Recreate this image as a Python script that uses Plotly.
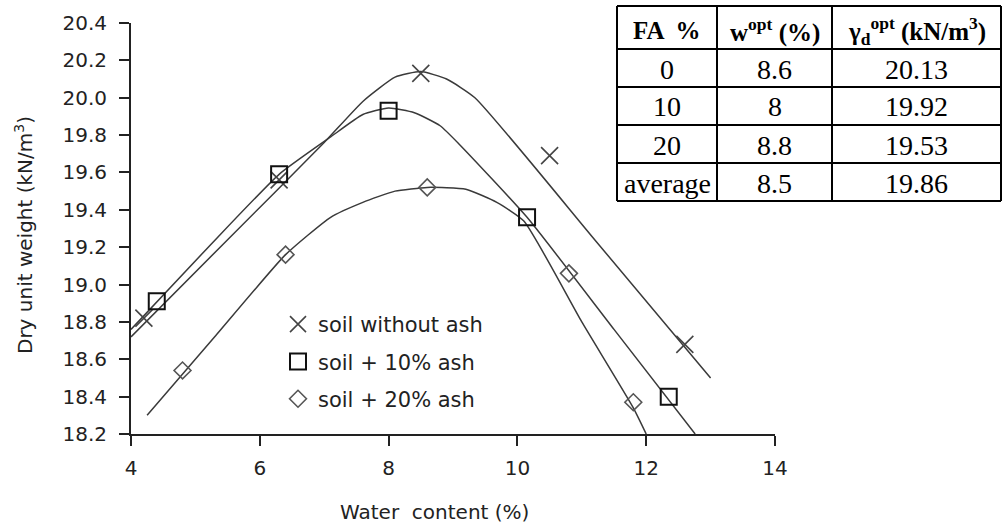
import plotly.graph_objects as go

# Measured compaction points (water content %, dry unit weight kN/m3)
w_no_ash = [4.2, 6.3, 8.5, 10.5, 12.6]
gd_no_ash = [18.82, 19.56, 20.13, 19.69, 18.68]

w_ash10 = [4.4, 6.3, 8.0, 10.15, 12.35]
gd_ash10 = [18.91, 19.59, 19.93, 19.36, 18.40]

w_ash20 = [4.8, 6.4, 8.6, 10.8, 11.8]
gd_ash20 = [18.54, 19.16, 19.52, 19.06, 18.37]

# Hand-fitted compaction curves (knots of the smoothed line)
curve_no_ash_w = [4.0, 5.5, 7.0, 7.6, 8.1, 8.5, 8.9, 9.34, 11.2, 13.0]
curve_no_ash_gd = [18.72, 19.24, 19.76, 19.98, 20.11, 20.14, 20.10, 20.0, 19.24, 18.5]

curve_ash10_w = [4.0, 5.2, 6.3, 7.1, 7.6, 8.0, 8.4, 8.8, 9.1, 10.15, 11.5, 12.76]
curve_ash10_gd = [18.76, 19.2, 19.59, 19.79, 19.91, 19.945, 19.92, 19.85, 19.75, 19.36, 18.76, 18.2]

curve_ash20_w = [4.25, 5.3, 6.4, 7.1, 7.6, 8.1, 8.6, 9.2, 9.68, 10.1, 11.0, 11.8, 12.0]
curve_ash20_gd = [18.30, 18.72, 19.16, 19.36, 19.44, 19.50, 19.52, 19.51, 19.44, 19.34, 18.8, 18.34, 18.2]

# Optimum values table
fa_pct = ["0", "10", "20", "average"]
w_opt = ["8.6", "8", "8.8", "8.5"]
gd_opt = ["20.13", "19.92", "19.53", "19.86"]
table_header = ["<b>FA  %</b>", "<b>w<sup>opt</sup> (%)</b>",
                "<b>γ<sub>d</sub><sup>opt</sup> (kN/m<sup>3</sup>)</b>"]

W, H = 1004, 529
L, R, T, B = 131, 775, 23, 434
LINE = "#3a3a3a"

fig = go.Figure()

for cw, cg in [(curve_no_ash_w, curve_no_ash_gd),
               (curve_ash10_w, curve_ash10_gd),
               (curve_ash20_w, curve_ash20_gd)]:
    fig.add_trace(go.Scatter(x=cw, y=cg, mode="lines",
                             line=dict(color=LINE, width=1.5, shape="spline", smoothing=0.5),
                             showlegend=False, hoverinfo="skip"))

fig.add_trace(go.Scatter(x=w_no_ash, y=gd_no_ash, mode="markers", name="soil without ash",
                         legendgroup="a",
                         marker=dict(symbol="x-thin", size=17, line=dict(color="#444444", width=1.6))))
fig.add_trace(go.Scatter(x=w_ash10, y=gd_ash10, mode="markers", name="soil + 10% ash",
                         legendgroup="b",
                         marker=dict(symbol="square-open", size=16, color="#111111",
                                     line=dict(color="#111111", width=2))))
fig.add_trace(go.Scatter(x=w_ash20, y=gd_ash20, mode="markers", name="soil + 20% ash",
                         legendgroup="c",
                         marker=dict(symbol="diamond-open", size=13, color="#555555",
                                     line=dict(color="#555555", width=1.6))))


def px_x(p):
    return (p - L) / (R - L)


def px_y(p):
    return (B - p) / (B - T)


# Table grid
col_edges = [617, 717, 832, 1001]
row_edges = [6, 49, 87, 125, 163, 201]
shapes = []
for cx in col_edges:
    shapes.append(dict(type="line", xref="paper", yref="paper",
                       x0=px_x(cx), x1=px_x(cx), y0=px_y(row_edges[0]), y1=px_y(row_edges[-1]),
                       line=dict(color="black", width=2)))
for ry in row_edges:
    shapes.append(dict(type="line", xref="paper", yref="paper",
                       x0=px_x(col_edges[0]), x1=px_x(col_edges[-1]), y0=px_y(ry), y1=px_y(ry),
                       line=dict(color="black", width=2)))

annotations = []
serif = "Liberation Serif"
rows = [table_header] + [[a, b, c] for a, b, c in zip(fa_pct, w_opt, gd_opt)]
for ri, row in enumerate(rows):
    yc = (row_edges[ri] + row_edges[ri + 1]) / 2 + (3 if ri == 0 else 1)
    for ci, txt in enumerate(row):
        xc = (col_edges[ci] + col_edges[ci + 1]) / 2
        annotations.append(dict(text=txt, xref="paper", yref="paper",
                                x=px_x(xc), y=px_y(yc), xanchor="center", yanchor="middle",
                                showarrow=False,
                                font=dict(family=serif, size=25 if ri == 0 else 28,
                                          color="black")))

# Axis titles
annotations.append(dict(text="Water  content (%)", xref="paper", yref="paper",
                        x=px_x(434), y=px_y(512), xanchor="center", yanchor="middle",
                        showarrow=False, font=dict(family="DejaVu Sans", size=20, color="#222222")))
annotations.append(dict(text="Dry unit weight (kN/m<sup>3</sup>)", xref="paper", yref="paper",
                        x=px_x(24), y=px_y(235), xanchor="center", yanchor="middle",
                        textangle=-90, showarrow=False,
                        font=dict(family="DejaVu Sans", size=20, color="#222222")))

fig.update_layout(
    width=W, height=H,
    margin=dict(l=L, r=W - R, t=T, b=H - B),
    paper_bgcolor="white", plot_bgcolor="white",
    font=dict(family="DejaVu Sans", size=19, color="#222222"),
    shapes=shapes, annotations=annotations,
    legend=dict(x=px_x(278), y=px_y(304), xanchor="left", yanchor="top",
                bgcolor="rgba(0,0,0,0)", tracegroupgap=7,
                font=dict(family="DejaVu Sans", size=21, color="#222222"),
                itemwidth=30),
    xaxis=dict(range=[4, 14], dtick=2, tick0=4, showgrid=False, zeroline=False,
               showline=True, linecolor="#222222", linewidth=2,
               ticks="outside", ticklen=10, tickwidth=2, tickcolor="#222222",
               ticklabelstandoff=5, tickfont=dict(size=20)),
    yaxis=dict(range=[18.2, 20.4], dtick=0.2, tick0=18.2, tickformat=".1f",
               showgrid=False, zeroline=False,
               showline=True, linecolor="#222222", linewidth=2,
               ticks="outside", ticklen=10, tickwidth=2, tickcolor="#222222",
               ticklabelstandoff=8, tickfont=dict(size=20)),
)

fig.write_html("out.html")
